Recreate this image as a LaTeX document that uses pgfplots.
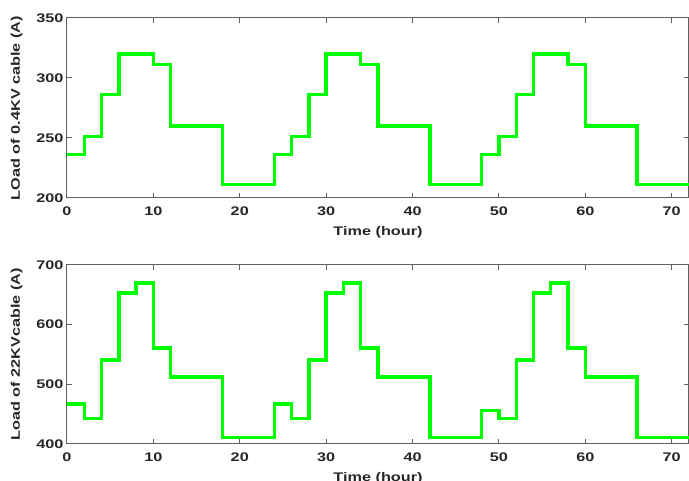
\documentclass[border=0pt]{standalone}
\usepackage{fontspec}
\setmainfont{Liberation Sans}[FakeStretch=1.3]
\usepackage{pgfplots}
\pgfplotsset{compat=1.18}
\definecolor{lgreen}{RGB}{0,255,0}
\definecolor{axgray}{RGB}{38,38,38}
\definecolor{boxgray}{RGB}{95,95,95}

\pgfplotsset{
  loadax/.style={
    scale only axis,
    width=622pt,
    anchor=south west,
    xmin=0, xmax=72,
    xtick={0,10,...,70},
    axis line style={boxgray, line width=1pt},
    tick style={boxgray, line width=1pt},
    tick align=inside,
    major tick length=5pt,
    tick label style={font=\fontsize{12.5}{14}\selectfont\bfseries, text=axgray},
    xticklabel style={yshift=-5pt},
    label style={font=\fontsize{12.5}{14}\selectfont\bfseries, text=axgray},
    /pgf/number format/assume math mode=true,
    xlabel={Time (hour)},
    xlabel style={yshift=-4pt},
    ylabel style={yshift=7pt},
  },
  loadline/.style={const plot, lgreen, line width=3.4pt, line join=miter, line cap=rect},
}

\begin{document}
\begin{tikzpicture}[x=1pt,y=1pt]
\begin{axis}[loadax, at={(67pt,283pt)}, height=180pt,
  ymin=200, ymax=350, ytick={200,250,300,350},
  ylabel={LOad of 0.4KV cable (A)}]
\addplot[loadline] coordinates {
  (0,236) (2,251) (4,286) (6,320) (10,311) (12,260) (18,211)
  (24,236) (26,251) (28,286) (30,320) (34,311) (36,260) (42,211)
  (48,236) (50,251) (52,286) (54,320) (58,311) (60,260) (66,211) (72,211)
};
\end{axis}
\begin{axis}[loadax, at={(67pt,37pt)}, height=179pt,
  ymin=400, ymax=700, ytick={400,500,600,700},
  ylabel={Load of 22KVcable (A)}]
\addplot[loadline] coordinates {
  (0,467) (2,443) (4,541) (6,653) (8,670) (10,561) (12,512) (18,411)
  (24,467) (26,443) (28,541) (30,653) (32,670) (34,561) (36,512) (42,411)
  (48,456) (50,443) (52,541) (54,653) (56,670) (58,561) (60,512) (66,411) (72,411)
};
\end{axis}
\pgfresetboundingbox
\path (0,0) rectangle (689,481);
\end{tikzpicture}
\end{document}
